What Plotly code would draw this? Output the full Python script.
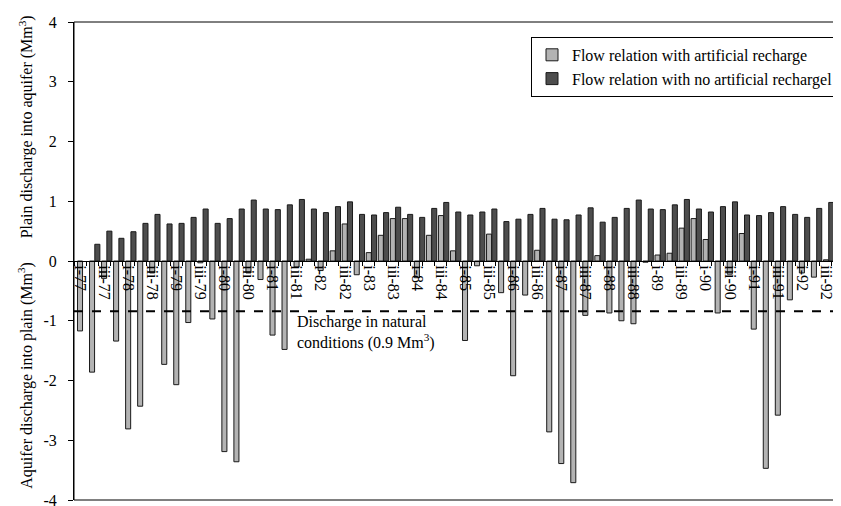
import plotly.graph_objects as go

categories = [
    "i-77", "ii-77", "iii-77", "iv-77", "i-78", "ii-78", "iii-78", "iv-78",
    "i-79", "ii-79", "iii-79", "iv-79", "i-80", "ii-80", "iii-80", "iv-80",
    "i-81", "ii-81", "iii-81", "iv-81", "i-82", "ii-82", "iii-82", "iv-82",
    "i-83", "ii-83", "iii-83", "iv-83", "i-84", "ii-84", "iii-84", "iv-84",
    "i-85", "ii-85", "iii-85", "iv-85", "i-86", "ii-86", "iii-86", "iv-86",
    "i-87", "ii-87", "iii-87", "iv-87", "i-88", "ii-88", "iii-88", "iv-88",
    "i-89", "ii-89", "iii-89", "iv-89", "i-90", "ii-90", "iii-90", "iv-90",
    "i-91", "ii-91", "iii-91", "iv-91", "i-92", "ii-92", "iii-92", "iv-92",
]

with_recharge = [
    -1.17, -1.86, -0.29, -1.34, -2.81, -2.43, -0.20, -1.73,
    -2.07, -1.03, -0.03, -0.97, -3.19, -3.36, -0.20, -0.31,
    -1.24, -1.48, -0.10, 0.03, -0.16, 0.17, 0.62, -0.23,
    0.14, 0.43, 0.71, 0.71, -0.28, 0.43, 0.76, 0.17,
    -1.33, -0.08, 0.45, -0.53, -1.92, -0.57, 0.18, -2.86,
    -3.39, -3.71, -0.91, 0.09, -0.87, -1.00, -1.05, -0.02,
    0.10, 0.13, 0.55, 0.71, 0.36, -0.87, -0.22, 0.46,
    -1.14, -3.47, -2.58, -0.65, -0.20, -0.27, 0.02, 0.59,
]

no_recharge = [
    None, 0.28, 0.50, 0.38, 0.49, 0.63, 0.78, 0.62,
    0.63, 0.73, 0.87, 0.63, 0.71, 0.87, 1.02, 0.87,
    0.86, 0.94, 1.03, 0.87, 0.81, 0.91, 0.99, 0.78,
    0.77, 0.81, 0.90, 0.78, 0.73, 0.88, 0.98, 0.82,
    0.77, 0.82, 0.87, 0.66, 0.70, 0.78, 0.88, 0.70,
    0.69, 0.77, 0.89, 0.65, 0.73, 0.88, 1.02, 0.87,
    0.86, 0.94, 1.03, 0.87, 0.82, 0.91, 0.99, 0.77,
    0.76, 0.81, 0.91, 0.78, 0.73, 0.88, 0.98, 0.82,
]

natural_discharge = -0.84

tick_labels = [c for c in categories if c.startswith("i-") or c.startswith("iii-")]
y_tick_values = [-4, -3, -2, -1, 0, 1, 2, 3, 4]
y_tick_labels = ["-4", "-3", "-2", "-1", "0", "1", "2", "3", "4"]

FONT = "Liberation Serif, Times New Roman, serif"
xs = list(range(len(categories)))
tickvals = [i for i, c in enumerate(categories) if c in tick_labels]

# plot area in pixels
L, R, T, B = 66, 836, 14, 495
W, H = 841, 506
PW, PH = R - L, B - T


def px_x(p):
    return (p - L) / PW


def px_y(p):
    return (B - p) / PH


def px_to_data_y(p):
    return 4 - 8 * (p - T) / PH


fig = go.Figure()
fig.add_trace(go.Bar(
    x=xs, y=with_recharge, name="Flow relation with artificial recharge",
    marker=dict(color="#b3b3b3", line=dict(color="#1a1a1a", width=1)),
    width=0.42, offset=-0.21, legendgroup="a",
))
fig.add_trace(go.Bar(
    x=xs, y=no_recharge, name="Flow relation with no artificial rechargel",
    marker=dict(color="#4d4d4d", line=dict(color="#1a1a1a", width=1)),
    width=0.42, offset=0.23, legendgroup="b",
))

fig.update_layout(
    width=W, height=H,
    margin=dict(l=L, r=W - R, t=T, b=H - B),
    paper_bgcolor="white", plot_bgcolor="white",
    barmode="overlay",
    font=dict(family=FONT, size=16, color="black"),
    showlegend=True,
    legend=dict(
        x=px_x(523), xanchor="left", y=px_y(29), yanchor="top",
        bordercolor="black", borderwidth=1, bgcolor="white",
        font=dict(family=FONT, size=16), tracegroupgap=6,
        traceorder="normal", itemwidth=30,
    ),
    xaxis=dict(
        range=[-0.5, len(categories) - 0.5],
        anchor="free", position=0.5, layer="above traces",
        showline=True, linecolor="black", linewidth=1,
        showgrid=False, zeroline=False,
        tickvals=tickvals, ticktext=tick_labels, tickangle=90,
        ticks="", tickfont=dict(family=FONT, size=16),
        minor=dict(tickvals=[i - 0.5 for i in range(len(categories) + 1)],
                   ticks="outside", ticklen=4, tickcolor="black", showgrid=False),
    ),
    yaxis=dict(
        range=[-4, 4], tickvals=y_tick_values, ticktext=y_tick_labels,
        showgrid=False, zeroline=False,
        showline=True, linecolor="black", linewidth=1,
        ticks="outside", ticklen=5, tickcolor="black",
        ticklabelstandoff=8, ticklabeloverflow="allow",
        tickfont=dict(family=FONT, size=16),
    ),
)

# plot frame
fig.add_shape(type="rect", xref="paper", yref="paper", x0=0, x1=1, y0=0, y1=1,
              line=dict(color="black", width=1), layer="above")
# natural discharge line
fig.add_shape(type="line", xref="paper", yref="y", x0=0, x1=1,
              y0=natural_discharge, y1=natural_discharge,
              line=dict(color="black", width=2, dash="dash"), layer="above")

fig.add_annotation(xref="paper", yref="y", x=px_x(287), y=px_to_data_y(305),
                   xanchor="left", yanchor="top", align="left", showarrow=False,
                   text="Discharge in natural<br>conditions (0.9 Mm<sup>3</sup>)",
                   font=dict(family=FONT, size=16))

fig.add_annotation(xref="paper", yref="paper", x=px_x(18), y=px_y(120),
                   xanchor="center", yanchor="middle", textangle=-90, showarrow=False,
                   text="Plain discharge into aquifer (Mm<sup>3</sup>)",
                   font=dict(family=FONT, size=16))
fig.add_annotation(xref="paper", yref="paper", x=px_x(18), y=px_y(370),
                   xanchor="center", yanchor="middle", textangle=-90, showarrow=False,
                   text="Aquifer discharge into plain (Mm<sup>3</sup>)",
                   font=dict(family=FONT, size=16))

fig.write_html("out.html")
